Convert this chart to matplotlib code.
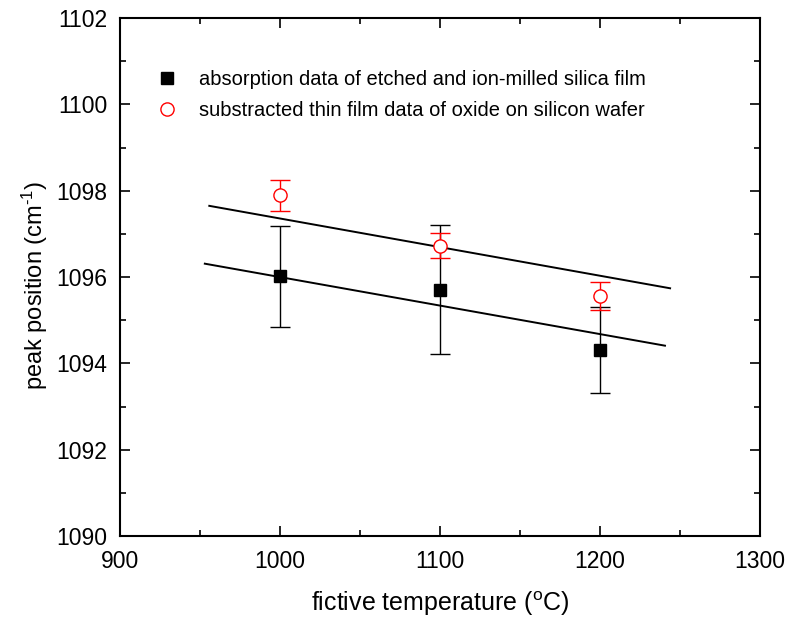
import numpy as np
import matplotlib
matplotlib.use("Agg")
import matplotlib.pyplot as plt
from matplotlib.ticker import MultipleLocator

plt.rcParams['font.family'] = ['Liberation Sans', 'DejaVu Sans']
plt.rcParams['mathtext.fontset'] = 'custom'
plt.rcParams['mathtext.rm'] = 'Liberation Sans'
plt.rcParams['mathtext.it'] = 'Liberation Sans:italic'

# data
temp = [1000, 1100, 1200]
bulk = [1096.02, 1095.70, 1094.31]
bulk_err_hi = [1.16, 1.51, 0.99]
bulk_err_lo = [1.17, 1.49, 1.00]
film = [1097.89, 1096.73, 1095.56]
film_err = [0.37, 0.29, 0.33]

# straight guide lines (end points)
line_film_x = [955.8, 1243.8]
line_film_y = [1097.65, 1095.74]
line_bulk_x = [953.0, 1240.6]
line_bulk_y = [1096.31, 1094.41]

fig = plt.figure(figsize=(7.98, 6.24), dpi=100)
ax = fig.add_axes([0.1504, 0.141, 0.802, 0.830])

ax.plot(line_film_x, line_film_y, color='black', lw=1.4)
ax.plot(line_bulk_x, line_bulk_y, color='black', lw=1.4)

ax.errorbar(temp, bulk, yerr=[bulk_err_lo, bulk_err_hi], fmt='s', color='black',
            ms=8.5, ecolor='black', elinewidth=1, capsize=7, capthick=1,
            label='absorption data of etched and ion-milled silica film')
ax.errorbar(temp, film, yerr=film_err, fmt='o', mfc='white', mec='red', mew=1,
            ms=9.5, ecolor='red', elinewidth=1, capsize=7, capthick=1,
            label='substracted thin film data of oxide on silicon wafer')

ax.set_xlim(900, 1300)
ax.set_ylim(1090, 1102)
ax.xaxis.set_major_locator(MultipleLocator(100))
ax.xaxis.set_minor_locator(MultipleLocator(50))
ax.yaxis.set_major_locator(MultipleLocator(2))
ax.yaxis.set_minor_locator(MultipleLocator(1))
ax.tick_params(which='both', direction='in', top=True, right=True, width=1.2, labelsize=16.5)
ax.tick_params(which='major', length=7)
ax.tick_params(which='minor', length=4)
ax.tick_params(axis='x', pad=10)
ax.tick_params(axis='y', pad=9)
for s in ax.spines.values():
    s.set_linewidth(1.5)

ax.set_xlabel('fictive temperature ($^{\\rm o}$C)', fontsize=18, labelpad=12)
ax.set_ylabel('peak position (cm$^{\\text{-1}}$)', fontsize=17)
ax.yaxis.set_label_coords(-0.109, 0.483)

handles, labels = ax.get_legend_handles_labels()
handles = [h[0] for h in handles]
ax.legend(handles, labels, loc='upper left', bbox_to_anchor=(0.045, 0.915),
          frameon=False, fontsize=14.5, handlelength=1.0, handletextpad=1.1,
          labelspacing=0.6, borderaxespad=0)

fig.savefig('out.png', dpi=100)
